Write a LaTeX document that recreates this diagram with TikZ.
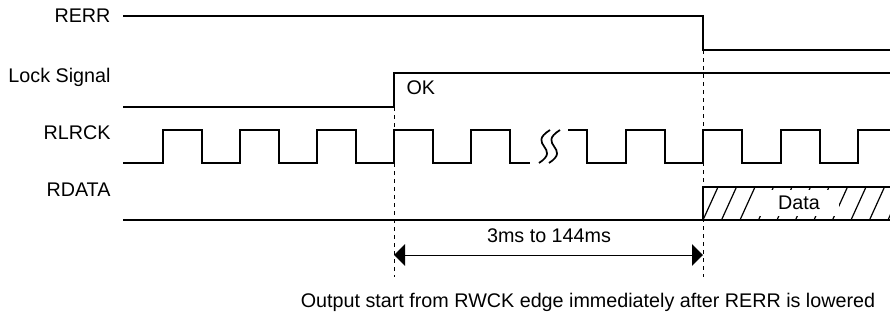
\documentclass[tikz,border=0pt]{standalone}
\usepackage{fontspec}
\setmainfont{Liberation Sans}
\usetikzlibrary{arrows.meta}

\tikzset{
  sig/.style={line width=1.5pt, line join=miter},
  guide/.style={line width=0.75pt, dash pattern=on 3pt off 3pt},
  hatch/.style={line width=0.9pt},
  lbl/.style={anchor=east, inner sep=0.75pt},
  span/.style={{Triangle[length=8.25pt, width=16pt]}-{Triangle[length=8.25pt, width=16pt]}},
  every picture/.style={line width=0.75pt}
}

\begin{document}
\begin{tikzpicture}[x=0.75pt,y=0.75pt,yscale=-1,xscale=1,font=\fontsize{14.8}{17.5}\selectfont]
\useasboundingbox (0,0) rectangle (890,322);

% Signal names
\node [lbl] (rerr) at (112,16) {RERR};
\node [lbl] (lock) at (112,77) {Lock Signal};
\node [lbl] (rlrck) at (112,133) {RLRCK};
\node [lbl] (rdata) at (112,190) {RDATA};

% Edges used by the guides
\coordinate (lockup) at (394,107);
\coordinate (rerrdn) at (703,50);
\coordinate (lockend) at (394,277);
\coordinate (rerrend) at (703,277);
\coordinate (spanl) at (394,255);
\coordinate (spanr) at (703,255);

% RERR
\draw [sig] (123,16) -- (703,16) -- (rerrdn) -- (890,50);
% Lock Signal
\draw [sig] (123,107) -- (lockup) -- (394,72.7) -- (890,72.7);
\node [anchor=west, inner sep=0.75pt] (ok) at (405,88) {OK};

% RLRCK
\draw [sig] (123,163) foreach \x in {163,240,317,394,471}{ -- (\x,163) -- (\x,130) -- (\x+38.5,130) -- (\x+38.5,163) } -- (530,163);
\draw [sig] (568,130) -- (587,130) -- (587,163) foreach \x in {626,703,781}{ -- (\x,163) -- (\x,130) -- (\x+38.5,130) -- (\x+38.5,163) } -- (858,163) -- (858,130) -- (890,130);
% break mark
\foreach \d in {0,10}
  \draw [line width=1.3pt] (550+\d,130) .. controls (526+\d,145) and (562+\d,148) .. (539+\d,163);

% RDATA
\begin{scope}
  \clip (703,187) rectangle (890,220);
  \foreach \x in {703,721.5,...,905}
    \draw [hatch] (\x,220) -- (\x+15,187);
\end{scope}
\node [fill=white, inner sep=0pt, minimum width=60pt, minimum height=19pt] (data) at (799,203) {Data};
\draw [sig] (123,220) -- (890,220);
\draw [sig] (703,220) -- (703,187) -- (890,187);

% Guides
\draw [guide] (lockup) -- (lockend);
\draw [guide] (rerrdn) -- (rerrend);
\draw [span] (spanl) -- (spanr);
\node (spantxt) at (549,236) {3ms to 144ms};

\node (note) at (588,302) {Output start from RWCK edge immediately after RERR is lowered};

\end{tikzpicture}
\end{document}
